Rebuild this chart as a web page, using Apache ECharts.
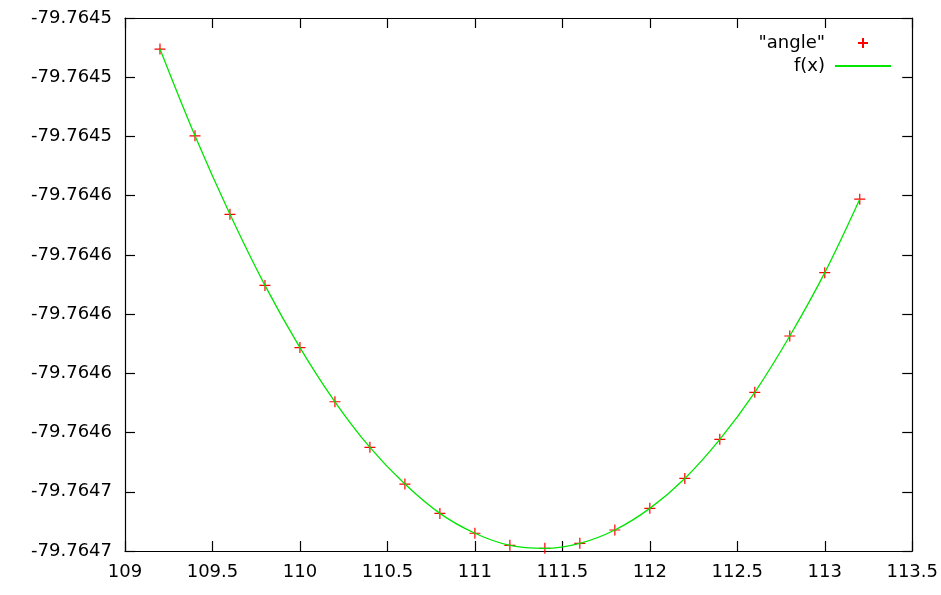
<!DOCTYPE html>
<html>
<head>
<meta charset="utf-8">
<script src="https://cdn.jsdelivr.net/npm/echarts@6/dist/echarts.min.js"></script>
<style>
html,body{margin:0;padding:0;background:#fff;}
#main{width:941px;height:595px;}
</style>
</head>
<body>
<div id="main"></div>
<script>
var xValues = [109.2, 109.4, 109.6, 109.8, 110.0, 110.2, 110.4, 110.6, 110.8, 111.0, 111.2,
               111.4, 111.6, 111.8, 112.0, 112.2, 112.4, 112.6, 112.8, 113.0, 113.2];
var angleValues = [-79.7645105, -79.7645398, -79.7645663, -79.7645903, -79.7646113, -79.7646296,
                   -79.764645, -79.7646574, -79.7646673, -79.764674, -79.7646781,
                   -79.7646791, -79.7646774, -79.7646729, -79.7646656, -79.7646555,
                   -79.7646423, -79.7646264, -79.7646074, -79.764586, -79.7645612];
var seriesNames = ['"angle"', 'f(x)'];
var xAxisRange = [109, 113.5, 0.5];
var yAxisRange = [-79.76468, -79.7645, 0.00002];

var pts = xValues.map(function (x, i) { return [x, angleValues[i]]; });
var font = 'DejaVu Sans';
var chart = echarts.init(document.getElementById('main'), null, {renderer: 'canvas'});

function xAx(pos, show) {
  return {
    type: 'value', position: pos, min: xAxisRange[0], max: xAxisRange[1], interval: xAxisRange[2],
    axisLine: {show: true, onZero: false, lineStyle: {color: '#000', width: 1.2}},
    axisTick: {show: true, inside: true, length: 10, lineStyle: {color: '#000', width: 1.2}},
    axisLabel: {show: show, margin: 12, color: '#000', fontSize: 18, fontFamily: font},
    splitLine: {show: false}
  };
}
function yAx(pos, show) {
  return {
    type: 'value', position: pos, min: yAxisRange[0], max: yAxisRange[1], interval: yAxisRange[2],
    scale: true,
    axisLine: {show: true, onZero: false, lineStyle: {color: '#000', width: 1.2}},
    axisTick: {show: true, inside: true, length: 10, lineStyle: {color: '#000', width: 1.2}},
    axisLabel: {show: show, margin: 13, color: '#000', fontSize: 18, fontFamily: font,
      formatter: function (v) { return Number(v).toFixed(4); }},
    splitLine: {show: false}
  };
}

chart.setOption({
  animation: false,
  backgroundColor: '#fff',
  grid: {left: 125, right: 28, top: 18, bottom: 44},
  legend: {
    orient: 'vertical', right: 44, top: 29, align: 'right',
    itemWidth: 56, itemHeight: 10, itemGap: 5,
    textStyle: {color: '#000', fontSize: 18, fontFamily: font, padding: [0, 5, 0, 0]},
    data: [
      {name: seriesNames[0]},
      {name: seriesNames[1], itemStyle: {opacity: 0}}
    ]
  },
  xAxis: [xAx('bottom', true), xAx('top', false)],
  yAxis: [yAx('left', true), yAx('right', false)],
  series: [
    {
      name: seriesNames[0], type: 'scatter', data: pts,
      symbol: 'path://M0,5 L10,5 M5,0 L5,10', symbolSize: 11, symbolKeepAspect: true,
      itemStyle: {color: 'rgba(0,0,0,0)', borderColor: '#ff0000', borderWidth: 1.2, opacity: 1},
      z: 2
    },
    {
      name: seriesNames[1], type: 'line', data: pts, smooth: 0.35,
      symbol: 'none', showSymbol: false,
      lineStyle: {color: '#00e600', width: 1.3},
      itemStyle: {color: '#00e600'},
      z: 3
    }
  ]
});
</script>
</body>
</html>
